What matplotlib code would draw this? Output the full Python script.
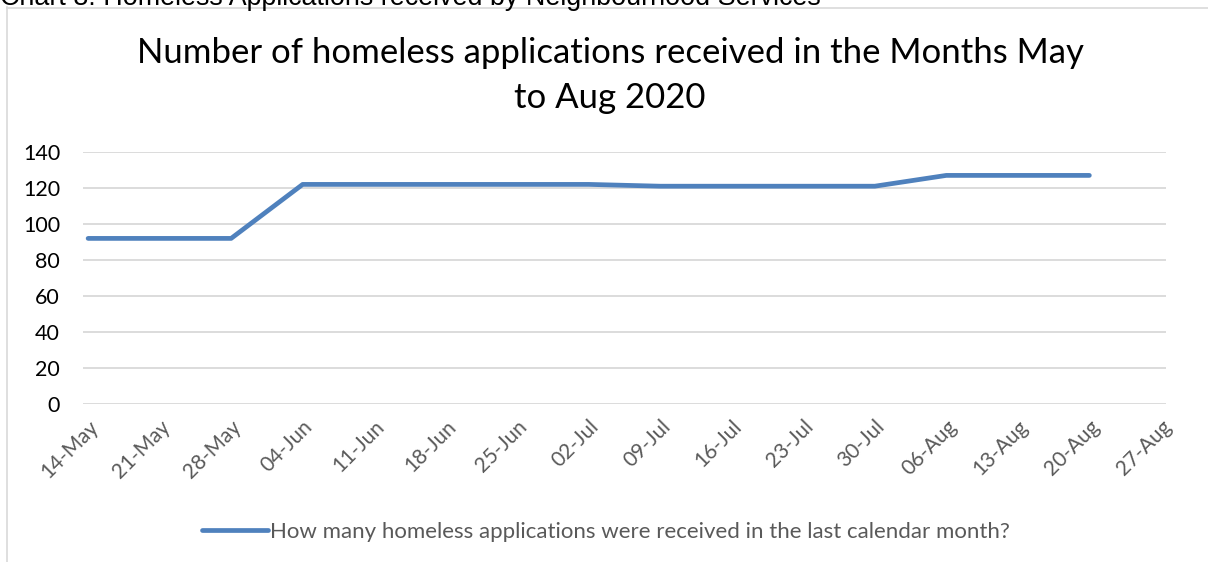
import matplotlib
matplotlib.use("Agg")
import matplotlib.pyplot as plt
import matplotlib.dates as mdates
from matplotlib.lines import Line2D
import pandas as pd

# weekly figures
week_labels = ["14-May", "21-May", "28-May", "04-Jun", "11-Jun", "18-Jun", "25-Jun",
               "02-Jul", "09-Jul", "16-Jul", "23-Jul", "30-Jul", "06-Aug", "13-Aug",
               "20-Aug"]
applications = [92, 92, 92, 122, 122, 122, 122, 122, 121, 121, 121, 121, 127, 127, 127]
axis_end = "27-Aug"
y_ticks = [0, 20, 40, 60, 80, 100, 120, 140]

title = "Number of homeless applications received in the Months May\nto Aug 2020"
series_name = "How many homeless applications were received in the last calendar month?"
caption = "Chart 8: Homeless Applications received by Neighbourhood Services"

plt.rcParams["font.family"] = ["Lato", "DejaVu Sans"]

dates = pd.to_datetime([w + "-2020" for w in week_labels], format="%d-%b-%Y")
end_date = pd.to_datetime(axis_end + "-2020", format="%d-%b-%Y")

W, H = 1208, 562
fig = plt.figure(figsize=(W / 100, H / 100), dpi=100)

# chart frame (Excel style border) and the clipped caption above it
frame = "#d9d9d9"
fig.add_artist(Line2D([7 / W, 1.0], [1 - 7.5 / H] * 2, color=frame, lw=1.2))
fig.add_artist(Line2D([7.5 / W] * 2, [0, 1 - 7 / H], color=frame, lw=1.2))
fig.text(0.0, 1 - 5 / H, caption, family="Liberation Sans", fontsize=19.4,
         va="baseline", ha="left", color="black")

ax = fig.add_axes([83 / W, (H - 404) / H, 1083 / W, 252 / H])
ax.plot(dates, applications, color="#4f81bd", lw=3.4, solid_capstyle="round",
        solid_joinstyle="round", label=series_name)

half = pd.Timedelta(hours=12)
ax.set_xlim(dates[0] - half, end_date + half)
ax.set_ylim(0, 140)
ax.set_yticks(y_ticks)
ax.xaxis.set_major_locator(mdates.DayLocator(interval=7))
ax.xaxis.set_major_formatter(mdates.DateFormatter("%d-%b"))

for s in ax.spines.values():
    s.set_visible(False)
ax.grid(axis="y", color="#d9d9d9", lw=1.3)
ax.set_axisbelow(True)
ax.tick_params(length=0)
ax.tick_params(axis="y", labelsize=15.5, labelcolor="black", pad=16.5)
ax.tick_params(axis="x", labelsize=15, labelcolor="#595959", pad=9)
for lbl in ax.get_xticklabels():
    lbl.set_rotation(45)
    lbl.set_ha("right")
    lbl.set_rotation_mode("anchor")

fig.text(610 / W, 1 - 75.5 / H, title, ha="center", va="center", fontsize=25,
         linespacing=1.5, color="black")

leg = fig.legend(loc="center", bbox_to_anchor=(606 / W, 1 - 532 / H), frameon=False,
                 fontsize=16, handlelength=2.95, handletextpad=0.1, labelcolor="#595959")

fig.savefig("out.png", dpi=100)
